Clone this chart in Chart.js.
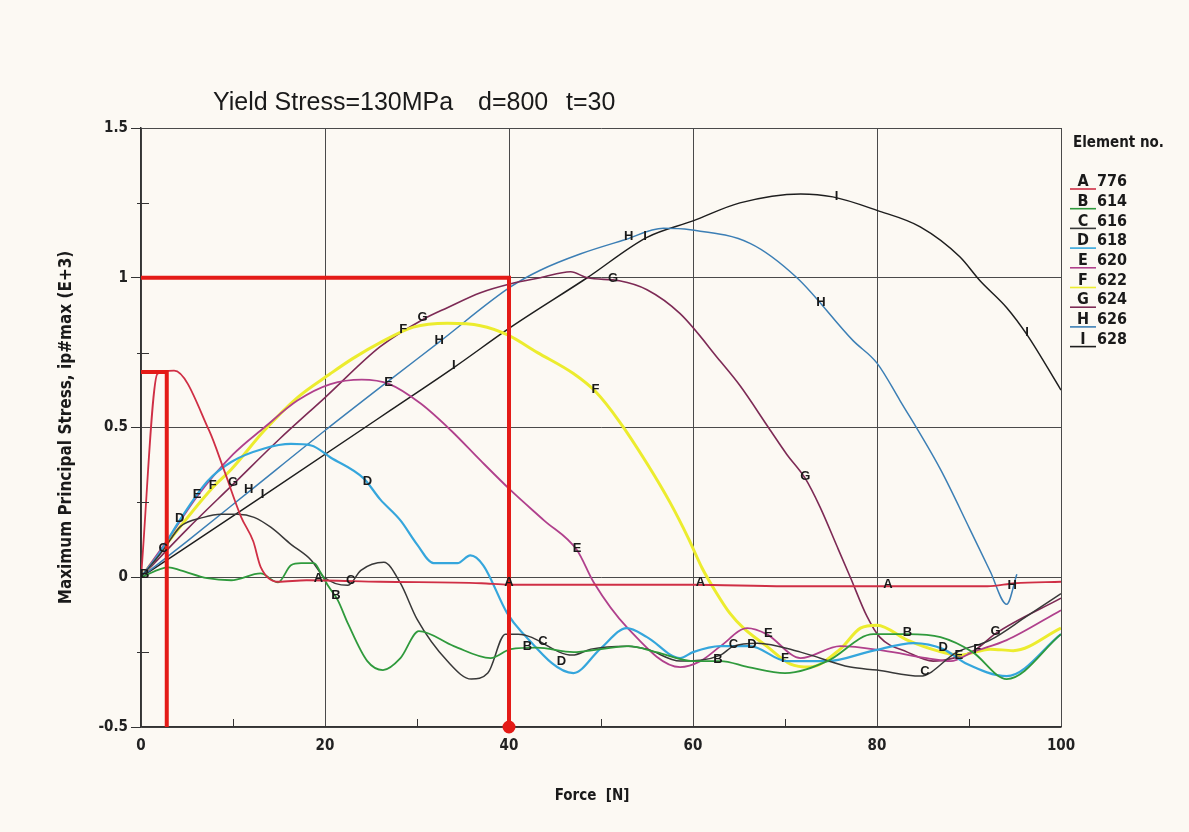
<!DOCTYPE html>
<html>
<head>
<meta charset="utf-8">
<title>Maximum Principal Stress vs Force</title>
<script src="https://cdn.jsdelivr.net/npm/chart.js@4.4.1/dist/chart.umd.min.js"></script>
<style>
  html, body { margin: 0; padding: 0; background: #fcf9f3; }
  #wrap { position: relative; width: 1189px; height: 832px; }
</style>
</head>
<body>
<div id="wrap"><canvas id="stressChart" width="1189" height="832"></canvas></div>
<script>
const NARROW = "'Liberation Sans Narrow', 'DejaVu Sans Condensed', 'Liberation Sans', Arial, sans-serif";

// Axis ticks
const xTickValues = [0, 20, 40, 60, 80, 100];
const xTickLabels = ['0', '20', '40', '60', '80', '100'];
const yTickValues = [-0.5, 0, 0.5, 1, 1.5];
const yTickLabels = ['-0.5', '0', '0.5', '1', '1.5'];
const xMinorTicks = [10, 30, 50, 70, 90];
const yMinorTicks = [-0.25, 0.25, 0.75, 1.25];

// Element numbers (legend)
const elementLetters = ['A', 'B', 'C', 'D', 'E', 'F', 'G', 'H', 'I'];
const elementNumbers = ['776', '614', '616', '618', '620', '622', '624', '626', '628'];
const elementColors = ['#cf2f45', '#2f9a3c', '#383838', '#35a6dc', '#b0408c', '#ecec2e', '#7d2a55', '#3c7fb5', '#1e1e1e'];
const elementWidths = [1.8, 1.8, 1.5, 2.2, 1.8, 3, 1.6, 1.5, 1.5];

// A 776
const forceA = [0, 1.8, 3.6, 7.4, 9, 10.9, 12.2, 13, 14.9, 18, 26, 37, 40, 60, 70, 84, 92, 95, 100];
const stressA = [0, 0.68, 0.69, 0.49, 0.36, 0.2, 0.12, 0.035, -0.015, -0.01, -0.015, -0.02, -0.025, -0.025, -0.03, -0.03, -0.03, -0.02, -0.015];
// B 614
const forceB = [0, 3, 4.3, 7.2, 9.8, 13, 14.9, 16.3, 17.4, 18.8, 19.5, 20.3, 21.4, 22.5, 24.6, 26.3, 28.2, 30.2, 34, 38, 40.2, 43, 47, 50, 53, 56, 60, 63, 66, 70, 74.6, 79.6, 83.3, 86.9, 90.4, 94.1, 100];
const stressB = [0, 0.033, 0.023, -0.003, -0.01, 0.013, -0.017, 0.04, 0.047, 0.047, 0.017, -0.027, -0.077, -0.155, -0.28, -0.31, -0.27, -0.18, -0.23, -0.27, -0.24, -0.235, -0.25, -0.24, -0.23, -0.25, -0.28, -0.28, -0.3, -0.32, -0.28, -0.19, -0.19, -0.2, -0.25, -0.34, -0.19];
// C 616
const forceC = [0, 2.4, 4.3, 6.8, 8.7, 10.5, 12.3, 14.1, 16.3, 18.5, 19.9, 22.5, 23.9, 26.4, 28.2, 30, 33.3, 35.9, 37.7, 39.6, 41, 46.9, 48.9, 52.8, 55, 58.6, 63, 64.4, 67, 71.7, 77.1, 80, 84.7, 88.7, 92.3, 96.3, 100];
const stressC = [0, 0.09, 0.17, 0.2, 0.21, 0.21, 0.2, 0.167, 0.11, 0.057, 0, -0.027, 0.023, 0.05, -0.02, -0.14, -0.28, -0.34, -0.32, -0.19, -0.19, -0.26, -0.24, -0.23, -0.24, -0.28, -0.26, -0.23, -0.22, -0.25, -0.3, -0.31, -0.33, -0.25, -0.21, -0.13, -0.055];
// D 618
const forceD = [0, 2, 4.2, 7.2, 9.8, 13.4, 16.3, 18.5, 20.6, 24.2, 26, 28.2, 30, 31.8, 34.4, 35.8, 37.2, 39.8, 41.3, 47, 49.9, 52.8, 55, 58.6, 60, 63, 66.2, 70.2, 74.6, 79.6, 84, 87.2, 89.8, 94.1, 100];
const stressD = [0, 0.08, 0.19, 0.32, 0.385, 0.43, 0.445, 0.44, 0.4, 0.33, 0.26, 0.19, 0.11, 0.047, 0.047, 0.073, 0.04, -0.12, -0.18, -0.32, -0.24, -0.17, -0.2, -0.27, -0.25, -0.23, -0.23, -0.28, -0.28, -0.245, -0.22, -0.24, -0.29, -0.33, -0.19];
// E 620
const forceE = [0, 3, 6.1, 10, 13.4, 17, 20.6, 24, 27, 30.4, 33.7, 36.9, 40.2, 43.8, 47.4, 49.2, 52.9, 58.6, 60.8, 63, 65.9, 68, 71.7, 76, 80.7, 85.4, 88, 90.4, 94.1, 100];
const stressE = [0, 0.13, 0.27, 0.41, 0.5, 0.59, 0.645, 0.66, 0.645, 0.58, 0.49, 0.39, 0.29, 0.19, 0.09, -0.017, -0.17, -0.3, -0.28, -0.23, -0.17, -0.19, -0.27, -0.23, -0.245, -0.27, -0.28, -0.25, -0.21, -0.11];
// F 622
const forceF = [0, 3, 7.8, 9.8, 13.4, 17, 20.6, 23, 26.1, 29.6, 33.3, 36.9, 39.8, 43.1, 47, 49.4, 52, 55, 57.5, 59.5, 61, 62.5, 64, 65.5, 68, 70.6, 72.7, 76, 78.2, 80, 83.3, 86.5, 89, 92.3, 94.8, 100];
const stressF = [0, 0.12, 0.3, 0.36, 0.49, 0.6, 0.68, 0.73, 0.785, 0.835, 0.848, 0.84, 0.81, 0.75, 0.68, 0.62, 0.52, 0.38, 0.25, 0.13, 0.03, -0.05, -0.12, -0.17, -0.23, -0.29, -0.3, -0.24, -0.17, -0.16, -0.21, -0.245, -0.26, -0.24, -0.245, -0.17];
// G 624
const forceG = [0, 5, 10, 15, 20, 26, 30.6, 33.3, 36.9, 40.2, 43.4, 46.7, 48.5, 52, 55, 58.6, 63, 65.1, 68.2, 70.2, 72.2, 73.8, 75.7, 77.1, 78.9, 80.3, 83.3, 86.1, 88.3, 90.8, 92.8, 100];
const stressG = [0, 0.16, 0.31, 0.46, 0.6, 0.77, 0.86, 0.9, 0.95, 0.98, 1.0, 1.02, 1.0, 0.99, 0.96, 0.88, 0.72, 0.64, 0.5, 0.41, 0.33, 0.235, 0.1, 0.0, -0.13, -0.2, -0.25, -0.28, -0.27, -0.24, -0.19, -0.07];
// H 626
const forceH = [0, 5, 11.7, 20, 27.1, 32.4, 40.2, 43.4, 47.8, 52.4, 56.8, 59.7, 66.2, 71.3, 77.4, 80, 82.5, 86.9, 90.1, 92.3, 94.1, 95.2];
const stressH = [0, 0.12, 0.285, 0.49, 0.66, 0.785, 0.97, 1.025, 1.08, 1.125, 1.165, 1.16, 1.115, 1.0, 0.79, 0.715, 0.59, 0.36, 0.16, 0.02, -0.09, 0.01];
// I 628
const forceI = [0, 13.2, 27.1, 34, 40.2, 48.5, 55, 60, 65.1, 71.7, 75.2, 80, 84.7, 89, 91.2, 94.1, 96.3, 100];
const stressI = [0, 0.27, 0.557, 0.7, 0.835, 1.0, 1.135, 1.19, 1.25, 1.28, 1.27, 1.225, 1.17, 1.07, 0.99, 0.9, 0.81, 0.625];

// Force values where each curve carries its letter
const labelForceA = [19.3, 40, 60.8, 81.2];
const labelForceB = [0.4, 21.2, 42, 62.7, 83.3];
const labelForceC = [2.4, 22.8, 43.7, 64.4, 85.2];
const labelForceD = [4.2, 24.6, 45.7, 66.4, 87.2];
const labelForceE = [6.1, 26.9, 47.4, 68.2, 88.9];
const labelForceF = [7.8, 28.5, 49.4, 70, 90.9];
const labelForceG = [10, 30.6, 51.3, 72.2, 92.9];
const labelForceH = [11.7, 32.4, 53, 73.9, 94.7];
const labelForceI = [13.2, 34, 54.8, 75.6, 96.3];

// Red guide lines
const peakGuideForce = [0, 2.8, 2.8];
const peakGuideStress = [0.685, 0.685, -0.5];
const yieldGuideForce = [0, 40, 40];
const yieldGuideStress = [1, 1, -0.5];

const seriesForce = [forceA, forceB, forceC, forceD, forceE, forceF, forceG, forceH, forceI];
const seriesStress = [stressA, stressB, stressC, stressD, stressE, stressF, stressG, stressH, stressI];
const seriesLabelForce = [labelForceA, labelForceB, labelForceC, labelForceD, labelForceE, labelForceF, labelForceG, labelForceH, labelForceI];

const toPoints = (xs, ys) => xs.map((x, i) => ({ x: x, y: ys[i] }));

// value on a curve at a given force (for placing the letters)
function stressAt(xs, ys, x) {
    for (let i = 1; i < xs.length; i++) {
        if (x <= xs[i]) {
            const t = (x - xs[i - 1]) / (xs[i] - xs[i - 1]);
            return ys[i - 1] + t * (ys[i] - ys[i - 1]);
        }
    }
    return ys[ys.length - 1];
}

const guideStyle = {
    borderColor: '#e41b17',
    backgroundColor: '#e41b17',
    borderWidth: 4,
    tension: 0,
    borderJoinStyle: 'miter',
    clip: false
};

const datasets = [
    Object.assign({ label: 'yield', data: toPoints(yieldGuideForce, yieldGuideStress), pointRadius: [0, 0, 4.5] }, guideStyle),
    Object.assign({ label: 'peak', data: toPoints(peakGuideForce, peakGuideStress), pointRadius: 0 }, guideStyle)
];
elementLetters.forEach((letter, i) => {
    datasets.push({
        label: letter + ' ' + elementNumbers[i],
        data: toPoints(seriesForce[i], seriesStress[i]),
        borderColor: elementColors[i],
        borderWidth: elementWidths[i],
        pointRadius: 0,
        cubicInterpolationMode: 'monotone',
        fill: false
    });
});

const decorPlugin = {
    id: 'decor',
    afterDatasetsDraw(chart) {
        const ctx = chart.ctx;
        const xs = chart.scales.x, ys = chart.scales.y;
        ctx.save();
        ctx.font = 'bold 13px "Liberation Sans", Arial, sans-serif';
        ctx.fillStyle = '#1a1a1a';
        ctx.textAlign = 'center';
        ctx.textBaseline = 'middle';
        seriesLabelForce.forEach((list, i) => {
            list.forEach(f => {
                const v = stressAt(seriesForce[i], seriesStress[i], f);
                ctx.fillText(elementLetters[i], xs.getPixelForValue(f), ys.getPixelForValue(v) - 2);
            });
        });
        ctx.restore();
    },
    afterDraw(chart) {
        const ctx = chart.ctx;
        const area = chart.chartArea;
        const xs = chart.scales.x, ys = chart.scales.y;
        ctx.save();

        // minor ticks
        ctx.strokeStyle = '#333';
        ctx.lineWidth = 1;
        ctx.beginPath();
        xMinorTicks.forEach(v => {
            const px = Math.round(xs.getPixelForValue(v)) + 0.5;
            ctx.moveTo(px, area.bottom);
            ctx.lineTo(px, area.bottom - 8);
        });
        yMinorTicks.forEach(v => {
            const py = Math.round(ys.getPixelForValue(v)) + 0.5;
            ctx.moveTo(area.left - 4, py);
            ctx.lineTo(area.left + 8, py);
        });
        ctx.stroke();

        // title
        ctx.fillStyle = '#1a1a1a';
        ctx.textBaseline = 'middle';
        ctx.textAlign = 'left';
        ctx.font = '25px "Liberation Sans", Arial, sans-serif';
        ctx.fillText('Yield Stress=130MPa', area.left + 72, 103);
        ctx.fillText('d=800', area.left + 337, 103);
        ctx.fillText('t=30', area.left + 425, 103);

        // axis titles
        ctx.font = 'bold 15px ' + NARROW;
        ctx.textAlign = 'center';
        ctx.fillText('Force  [N]', 592, 796);
        ctx.save();
        ctx.translate(67, (area.top + area.bottom) / 2);
        ctx.rotate(-Math.PI / 2);
        ctx.font = 'bold 17px ' + NARROW;
        ctx.fillText('Maximum Principal Stress, ip#max (E+3)', 0, 0);
        ctx.restore();

        // legend
        const lx = area.right;
        ctx.textAlign = 'left';
        ctx.font = 'bold 15px ' + NARROW;
        ctx.fillText('Element no.', lx + 12, 143);
        ctx.font = 'bold 16px ' + NARROW;
        elementLetters.forEach((letter, i) => {
            const y = 182 + i * 19.7;
            ctx.strokeStyle = elementColors[i];
            ctx.lineWidth = 1.6;
            ctx.beginPath();
            ctx.moveTo(lx + 9, y + 7);
            ctx.lineTo(lx + 35, y + 7);
            ctx.stroke();
            ctx.fillStyle = '#1a1a1a';
            ctx.textAlign = 'center';
            ctx.fillText(letter, lx + 22, y);
            ctx.textAlign = 'left';
            ctx.fillText(elementNumbers[i], lx + 36, y);
        });
        ctx.restore();
    }
};

new Chart(document.getElementById('stressChart'), {
    type: 'line',
    data: { datasets: datasets },
    options: {
        responsive: false,
        animation: false,
        layout: { padding: { top: 128, right: 128, bottom: 0, left: 0 } },
        plugins: {
            legend: { display: false },
            tooltip: { enabled: false },
            title: { display: false }
        },
        scales: {
            x: {
                type: 'linear',
                min: 0,
                max: 100,
                afterBuildTicks: s => { s.ticks = xTickValues.map(v => ({ value: v })); },
                afterFit: s => { s.height = 105; },
                grid: { color: '#4a4a4a', lineWidth: 1, drawTicks: false },
                border: { color: '#333', width: 1.5 },
                ticks: {
                    padding: 10,
                    color: '#222',
                    maxRotation: 0,
                    autoSkip: false,
                    font: { family: NARROW, size: 15, weight: 'bold' },
                    callback: (v, i) => xTickLabels[i]
                }
            },
            y: {
                type: 'linear',
                min: -0.5,
                max: 1.5,
                afterBuildTicks: s => { s.ticks = yTickValues.map(v => ({ value: v })); },
                afterFit: s => { s.width = 141; },
                grid: { color: '#4a4a4a', lineWidth: 1, tickLength: 10, tickColor: '#333' },
                border: { color: '#333', width: 1.5 },
                ticks: {
                    padding: 3,
                    color: '#222',
                    autoSkip: false,
                    font: { family: NARROW, size: 15, weight: 'bold' },
                    callback: (v, i) => yTickLabels[i]
                }
            }
        }
    },
    plugins: [decorPlugin]
});
</script>
</body>
</html>
